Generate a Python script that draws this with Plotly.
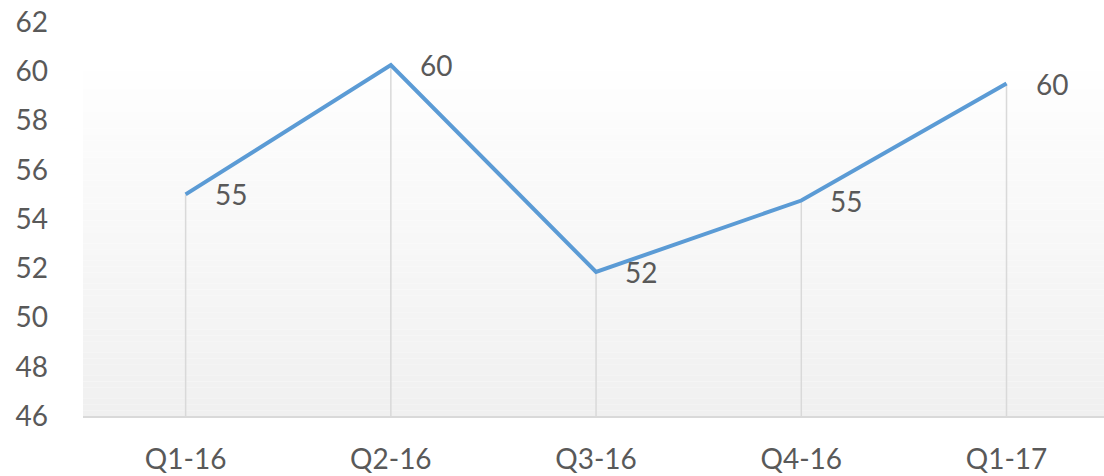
import plotly.graph_objects as go

quarters = ["Q1-16", "Q2-16", "Q3-16", "Q4-16", "Q1-17"]
values = [55.0, 60.25, 51.85, 54.75, 59.5]
labels = ["55", "60", "52", "55", "60"]
y_ticks = [46, 48, 50, 52, 54, 56, 58, 60, 62]

Y_MIN, Y_MAX = 46, 62
FONT = "Lato, 'Open Sans', sans-serif"
TEXT_COLOR = "#595959"

fig = go.Figure()

# light vertical gradient behind the plot area (from 60 down to the axis)
steps = 60
top = (60 - Y_MIN) / (Y_MAX - Y_MIN)
shapes = []
for i in range(steps):
    t = i / (steps - 1)
    g = round(240 + (254 - 240) * t)
    shapes.append(dict(
        type="rect", xref="paper", yref="paper", layer="below",
        x0=0, x1=1, y0=top * i / steps, y1=top * (i + 1) / steps,
        line=dict(width=0), fillcolor=f"rgb({g},{g},{g})",
    ))

fig.add_trace(go.Scatter(
    x=quarters,
    y=values,
    mode="lines",
    line=dict(color="#5b9bd5", width=4),
    error_y=dict(
        type="data", symmetric=False,
        array=[0] * len(values),
        arrayminus=[v - Y_MIN for v in values],
        color="#d9d9d9", thickness=1.5, width=0,
    ),
    hoverinfo="x+y",
    showlegend=False,
))

for q, v, lab in zip(quarters, values, labels):
    fig.add_annotation(
        x=q, y=v, text=lab, showarrow=False,
        xanchor="left", yanchor="middle", xshift=27,
        font=dict(family=FONT, size=28, color=TEXT_COLOR),
    )

fig.update_layout(
    width=1104, height=476,
    margin=dict(l=83, r=0, t=22, b=60),
    paper_bgcolor="white",
    plot_bgcolor="rgba(0,0,0,0)",
    shapes=shapes,
    font=dict(family=FONT, size=28, color=TEXT_COLOR),
    xaxis=dict(
        range=[-0.5, 4.475],
        showgrid=False, zeroline=False,
        showline=True, linecolor="#d9d9d9", linewidth=1.5,
        ticks="", ticklabelstandoff=18, automargin=False,
    ),
    yaxis=dict(
        range=[Y_MIN, Y_MAX],
        tickvals=y_ticks,
        showgrid=False, zeroline=False, showline=False,
        ticks="", ticklabelstandoff=34, automargin=False,
        ticklabeloverflow="allow",
    ),
)

# drop the default 8px body margin so the figure fills the window exactly
fig.write_html(
    "out.html",
    config={"displayModeBar": False},
    post_script="document.body.style.margin='0';",
)
